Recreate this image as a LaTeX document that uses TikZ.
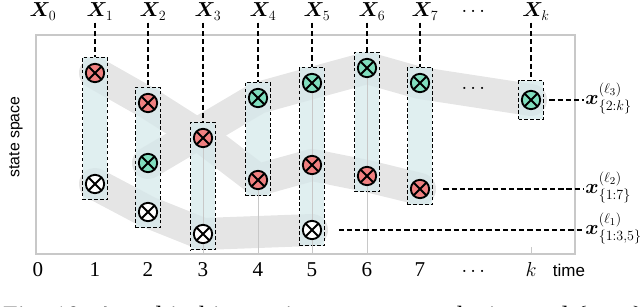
\documentclass[tikz,border=0pt]{standalone}
\definecolor{objred}{RGB}{240,128,128}
\definecolor{objgreen}{RGB}{128,222,190}
\definecolor{boxcyan}{RGB}{214,233,235}
\definecolor{bandgray}{RGB}{229,229,229}
\definecolor{framegray}{RGB}{200,200,200}
\usepackage{amsmath,amssymb,bm}
\usepackage{fontspec}
\setmainfont{Liberation Serif}
\newfontfamily\labelsans{Liberation Sans}
\usepackage{tikz}
\usetikzlibrary{positioning,fit,backgrounds,calc}

\tikzset{
    obj/.style={circle, draw=black, line width=1.6pt, minimum size=0.55cm, inner sep=0pt,
        path picture={\draw[line width=1.6pt]
            (path picture bounding box.south west) -- (path picture bounding box.north east)
            (path picture bounding box.north west) -- (path picture bounding box.south east);}},
    redobj/.style={obj, fill=objred},
    greenobj/.style={obj, fill=objgreen},
    blackobj/.style={obj, fill=white},
    trackbox/.style={draw, dash pattern=on 3pt off 2pt, line width=0.8pt, fill=boxcyan, fill opacity=0.75,
        inner xsep=0.07cm, inner ysep=0.17cm},
    band/.style={bandgray, line width=0.96cm, line cap=round, line join=round},
    linkdash/.style={dash pattern=on 4.5pt off 2.5pt, line width=1.2pt},
    tickline/.style={framegray, line width=0.6pt},
    biglabel/.style={font=\fontsize{18}{20}\selectfont},
}

\begin{document}
\begin{tikzpicture}[x=0.03cm, y=-0.03cm]
    \useasboundingbox (0,0) rectangle (640,307);

    % frame of the state space
    \coordinate (fnw) at (36,35);
    \coordinate (fse) at (575,254);
    \draw[framegray, line width=0.9pt] (fnw) rectangle (fse);

    % objects at each time step
    \node[redobj]   (n1r) at (95,73) {};
    \node[blackobj] (n1b) at (95,184) {};
    \node[redobj]   (n2r) at (148,103) {};
    \node[greenobj] (n2g) at (148,163) {};
    \node[blackobj] (n2b) at (148,212) {};
    \node[redobj]   (n3r) at (203,138) {};
    \node[blackobj] (n3b) at (203,234) {};
    \node[greenobj] (n4g) at (258,98) {};
    \node[redobj]   (n4r) at (258,180) {};
    \node[greenobj] (n5g) at (312,83) {};
    \node[redobj]   (n5r) at (312,165) {};
    \node[blackobj] (n5b) at (312,230) {};
    \node[greenobj] (n6g) at (367,68) {};
    \node[redobj]   (n6r) at (367,176) {};
    \node[greenobj] (n7g) at (420,83) {};
    \node[redobj]   (n7r) at (420,189) {};
    \node[greenobj] (nkg) at (531,100) {};
    \node[biglabel] (pdots) at (475,89) {$\cdots$};

    % tracks and boxes behind the objects
    \begin{pgfonlayer}{background}
        \draw[band] (n1b.center) -- (n2b.center) -- (n3b.center) -- (n5b.center);
        \draw[band] (n1r.center) -- (n2r.center) -- (n3r.center) -- (n4r.center)
            -- (n5r.center) -- (n6r.center) -- (n7r.center);
        \draw[band] (n2g.center) -- (n4g.center) -- (n5g.center) -- (n6g.center)
            -- (n7g.center) -- (nkg.center);
        \node[trackbox, fit=(n1r)(n1b)] (b1) {};
        \node[trackbox, fit=(n2r)(n2b)] (b2) {};
        \node[trackbox, fit=(n3r)(n3b)] (b3) {};
        \node[trackbox, fit=(n4g)(n4r)] (b4) {};
        \node[trackbox, fit=(n5g)(n5b)] (b5) {};
        \node[trackbox, fit=(n6g)(n6r)] (b6) {};
        \node[trackbox, fit=(n7g)(n7r)] (b7) {};
        \node[trackbox, inner ysep=0.27cm, fit=(nkg)] (bk) {};
        \foreach \n in {n3r,n4r,n5g,n6g}
            \draw[tickline] (\n) -- (\n |- fse);
        \coordinate (kt) at (531,247);
        \draw[tickline] (kt) -- (kt |- fse);
    \end{pgfonlayer}

    % random variables on top
    \foreach \i/\x in {0/38,1/95,2/148,3/203,4/258,5/312,6/367,7/420}
        \node[biglabel, anchor=base, inner sep=2pt] (X\i) at (\x+5,17) {$\bm{X}_{\i}$};
    \node[biglabel, anchor=base, inner sep=0pt] (Xdots) at (475,17) {$\cdots$};
    \node[biglabel, anchor=base, inner sep=2pt] (Xk) at (536,17) {$\bm{X}_{k}$};
    \foreach \i in {1,...,7}
        \draw[linkdash] (b\i.north |- X\i.south) -- (b\i.north);
    \draw[linkdash] (bk.north |- Xk.south) -- (bk.north);

    % time axis
    \foreach \i/\x in {0/38,1/95,2/148,3/203,4/258,5/312,6/367,7/420}
        \node[biglabel, anchor=base] (t\i) at (\x,276) {\i};
    \node[biglabel, anchor=base] (tdots) at (475,276) {$\cdots$};
    \node[biglabel, anchor=base] (tk) at (531,276) {$k$};
    \node[anchor=base, font=\labelsans\fontsize{14.5}{16}\selectfont] (time) at (569,276) {time};
    \node[rotate=90, font=\labelsans\fontsize{13.5}{15}\selectfont] (ylab) at (16,137) {state space};

    % track labels
    \node[biglabel, anchor=base west, inner sep=1pt] (l3) at (584,104) {$\bm{x}^{(\ell_3)}_{\{2:k\}}$};
    \node[biglabel, anchor=base west, inner sep=1pt] (l2) at (584,193) {$\bm{x}^{(\ell_2)}_{\{1:7\}}$};
    \node[biglabel, anchor=base west, inner sep=1pt] (l1) at (584,234) {$\bm{x}^{(\ell_1)}_{\{1:3,5\}}$};
    \draw[linkdash, shorten <=0.25cm] (nkg) -- (nkg -| l3.west);
    \draw[linkdash, shorten <=0.4cm] (n7r) -- (n7r -| l2.west);
    \draw[linkdash, shorten <=0.5cm] (n5b) -- (n5b -| l1.west);

    % caption, cut by the page edge
    \node[anchor=base west, inner sep=0pt, font=\fontsize{22.5}{26}\selectfont] (caption) at (3,324)
        {Fig. 10: A multi-object trajectory $\bm{X}$ over the interval $\{0:k\}$};
\end{tikzpicture}
\end{document}
